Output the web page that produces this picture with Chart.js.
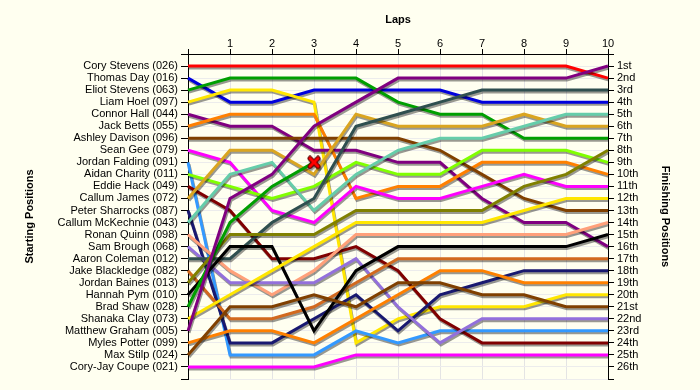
<!DOCTYPE html>
<html>
<head>
<meta charset="utf-8">
<title>Lap chart</title>
<script src="https://cdn.jsdelivr.net/npm/chart.js@4/dist/chart.umd.min.js"></script>
<style>
  body { margin: 0; background: #fffff0; }
  #lapChart { display: block; }
</style>
</head>
<body>
<canvas id="lapChart" width="700" height="390"></canvas>
<script>
let laps = [0, 1, 2, 3, 4, 5, 6, 7, 8, 9, 10];

let drivers = [
  "Cory Stevens (026)", "Thomas Day (016)", "Eliot Stevens (063)", "Liam Hoel (097)",
  "Connor Hall (044)", "Jack Betts (055)", "Ashley Davison (096)", "Sean Gee (079)",
  "Jordan Falding (091)", "Aidan Charity (011)", "Eddie Hack (049)", "Callum James (072)",
  "Peter Sharrocks (087)", "Callum McKechnie (043)", "Ronan Quinn (098)", "Sam Brough (068)",
  "Aaron Coleman (012)", "Jake Blackledge (082)", "Jordan Baines (013)", "Hannah Pym (010)",
  "Brad Shaw (028)", "Shanaka Clay (073)", "Matthew Graham (005)", "Myles Potter (099)",
  "Max Stilp (024)", "Cory-Jay Coupe (021)",
];

let finishLabels = [
  "1st", "2nd", "3rd", "4th", "5th", "6th", "7th", "8th", "9th", "10th", "11th", "12th", "13th",
  "14th", "15th", "16th", "17th", "18th", "19th", "20th", "21st", "22nd", "23rd", "24th", "25th", "26th",
];

// position after each lap (lap 0 = grid)
let coryStevens = [1, 1, 1, 1, 1, 1, 1, 1, 1, 1, 2];
let thomasDay = [2, 4, 4, 3, 3, 3, 3, 4, 4, 4, 4];
let eliotStevens = [3, 2, 2, 2, 2, 4, 5, 5, 7, 7, 7];
let liamHoel = [4, 3, 3, 4, 24, 22, 21, 21, 21, 20, 20];
let connorHall = [5, 6, 6, 8, 8, 9, 9, 12, 14, 14, 16];
let jackBetts = [6, 5, 5, 5, 12, 11, 11, 9, 9, 9, 10];
let ashleyDavison = [7, 7, 7, 7, 7, 7, 8, 10, 12, 13, 13];
let seanGee = [8, 9, 13, 14, 11, 12, 12, 11, 10, 11, 11];
let jordanFalding = [9, 25, 25, 25, 23, 24, 23, 23, 23, 23, 23];
let aidanCharity = [10, 11, 12, 11, 9, 10, 10, 8, 8, 8, 9];
let eddieHack = [11, 13, 17, 17, 16, 18, 22, 24, 24, 24, 24];
let callumJames = [12, 8, 8, 10, 5, 6, 6, 6, 5, 6, 6];
let peterSharrocks = [13, 24, 24, 22, 20, 23, 20, 19, 18, 18, 18];
let callumMcKechnie = [14, 10, 9, 13, 10, 8, 7, 7, 6, 5, 5];
let ronanQuinn = [15, 18, 20, 18, 15, 15, 15, 15, 15, 15, 14];
let samBrough = [16, 19, 19, 19, 17, 21, 24, 22, 22, 22, 22];
let aaronColeman = [17, 17, 14, 12, 6, 5, 4, 3, 3, 3, 3];
let jakeBlackledge = [18, 22, 22, 21, 19, 17, 17, 17, 17, 17, 17];
let jordanBaines = [19, 15, 15, 15, 13, 13, 13, 13, 11, 10, 8];
let hannahPym = [20, 16, 16, 23, 18, 16, 16, 16, 16, 16, 15];
let bradShaw = [21, 14, 11, 9, null, null, null, null, null, null, null];
let shanakaClay = [22, 20, 18, 16, 14, 14, 14, 14, 13, 12, 12];
let matthewGraham = [23, 12, 10, 6, 4, 2, 2, 2, 2, 2, 1];
let mylesPotter = [24, 23, 23, 24, 22, 20, 18, 18, 19, 19, 19];
let maxStilp = [25, 21, 21, 20, 21, 19, 19, 20, 20, 21, 21];
let coryJayCoupe = [26, 26, 26, 26, 25, 25, 25, 25, 25, 25, 25];

let positions = [
  coryStevens, thomasDay, eliotStevens, liamHoel, connorHall, jackBetts, ashleyDavison,
  seanGee, jordanFalding, aidanCharity, eddieHack, callumJames, peterSharrocks,
  callumMcKechnie, ronanQuinn, samBrough, aaronColeman, jakeBlackledge, jordanBaines,
  hannahPym, bradShaw, shanakaClay, matthewGraham, mylesPotter, maxStilp, coryJayCoupe,
];

// Brad Shaw retired on lap 3
let retiredDriver = 20;
let retiredLap = 3;

let lineColors = [
  "#ff0000", "#0000dd", "#009f00", "#ffe600", "#800080", "#ff8000", "#804000",
  "#ff00ff", "#3399ff", "#80ff00", "#800000", "#daa520", "#191970", "#66cdaa",
  "#ffa07a", "#9370db", "#2f4f4f", "#d2691e", "#808000", "#000000",
  "#009f00", "#ffe600", "#800080", "#ff8000", "#804000", "#ff00ff",
];

let retireMark = () => {
  let c = document.createElement("canvas");
  c.width = 14;
  c.height = 14;
  let g = c.getContext("2d");
  g.lineCap = "round";
  g.beginPath();
  g.moveTo(3, 3);
  g.lineTo(11, 11);
  g.moveTo(11, 3);
  g.lineTo(3, 11);
  g.strokeStyle = "#600000";
  g.lineWidth = 5;
  g.stroke();
  g.strokeStyle = "#ff0000";
  g.lineWidth = 3;
  g.stroke();
  return c;
};

let lineShadow = {
  id: "lineShadow",
  beforeDatasetDraw(chart) {
    let ctx = chart.ctx;
    ctx.save();
    ctx.shadowColor = "rgba(0, 0, 0, 0.4)";
    ctx.shadowOffsetX = 1;
    ctx.shadowOffsetY = 2;
    ctx.shadowBlur = 0;
  },
  afterDatasetDraw(chart) {
    chart.ctx.restore();
  },
};

let lapChart = () => {
  let mark = retireMark();
  let rowTicks = [0].concat(drivers.map((d, i) => i + 1), [drivers.length + 1]);
  let tickFont = { family: "'Liberation Sans', Arial, sans-serif", size: 11 };
  let titleFont = { family: "'Liberation Sans', Arial, sans-serif", size: 11, weight: "bold" };

  let datasets = positions.map((pos, i) => ({
    label: drivers[i],
    data: pos,
    borderColor: lineColors[i],
    backgroundColor: lineColors[i],
    borderWidth: 3,
    tension: 0,
    fill: false,
    order: -i,
    pointRadius: pos.map((p, j) => (i == retiredDriver && j == retiredLap ? 7 : 0)),
    pointStyle: mark,
    yAxisID: "y",
  }));

  new Chart("lapChart", {
    type: "line",
    data: { labels: laps, datasets: datasets },
    plugins: [lineShadow],
    options: {
      responsive: false,
      animation: false,
      devicePixelRatio: 1,
      layout: { padding: { left: 0, right: 0, top: 0, bottom: 11 } },
      plugins: { legend: { display: false }, tooltip: { enabled: false } },
      scales: {
        x: {
          type: "category",
          position: "top",
          offset: false,
          grid: { color: "#e4e4e4", tickColor: "#000", tickLength: 5 },
          border: { color: "#000" },
          ticks: {
            color: "#000",
            font: tickFont,
            padding: -2,
            maxRotation: 0,
            autoSkip: false,
            callback: (v, i) => (i == 0 ? "" : laps[i]),
          },
          title: { display: true, text: "Laps", color: "#000", font: titleFont, padding: { top: 13, bottom: 0 } },
          afterFit: (scale) => { scale.height = 54; },
        },
        y: {
          position: "left",
          reverse: true,
          min: 0,
          max: drivers.length + 1,
          grid: { color: "#ececec", tickColor: "#000", tickLength: 7 },
          border: { color: "#000" },
          afterBuildTicks: (scale) => { scale.ticks = rowTicks.map((v) => ({ value: v })); },
          ticks: {
            color: "#000",
            font: tickFont,
            padding: 3,
            autoSkip: false,
            callback: (v) => drivers[v - 1] || "",
          },
          title: { display: true, text: "Starting Positions", color: "#000", font: titleFont, padding: { top: 23, bottom: 0 } },
          afterFit: (scale) => { scale.width = 188; },
        },
        yFinish: {
          position: "right",
          reverse: true,
          min: 0,
          max: drivers.length + 1,
          grid: { drawOnChartArea: false, color: "#000", tickLength: 6 },
          border: { color: "#000" },
          afterBuildTicks: (scale) => { scale.ticks = rowTicks.map((v) => ({ value: v })); },
          ticks: {
            color: "#000",
            font: tickFont,
            padding: 3,
            autoSkip: false,
            callback: (v) => finishLabels[v - 1] || "",
          },
          title: { display: true, text: "Finishing Positions", color: "#000", font: titleFont, padding: { top: 28, bottom: 0 } },
          afterFit: (scale) => { scale.width = 92; },
        },
      },
    },
  });
};

lapChart();
</script>
</body>
</html>
